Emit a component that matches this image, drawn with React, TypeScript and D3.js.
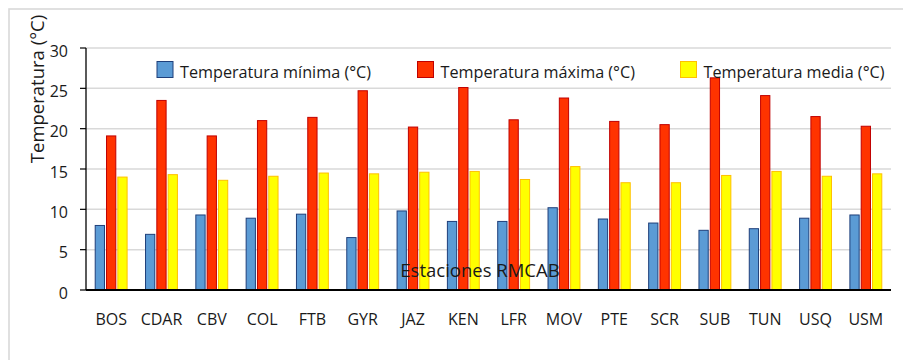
import React from "react";
import * as d3 from "d3";

const categories = ["BOS", "CDAR", "CBV", "COL", "FTB", "GYR", "JAZ", "KEN", "LFR", "MOV", "PTE", "SCR", "SUB", "TUN", "USQ", "USM"];
const tempMin = [8.0, 6.9, 9.3, 8.9, 9.4, 6.5, 9.8, 8.5, 8.5, 10.2, 8.8, 8.3, 7.4, 7.6, 8.9, 9.3];
const tempMax = [19.1, 23.5, 19.1, 21.0, 21.4, 24.7, 20.2, 25.1, 21.1, 23.8, 20.9, 20.5, 26.3, 24.1, 21.5, 20.3];
const tempMean = [14.0, 14.3, 13.6, 14.1, 14.5, 14.4, 14.6, 14.7, 13.7, 15.3, 13.3, 13.3, 14.2, 14.7, 14.1, 14.4];
const seriesNames = ["Temperatura mínima (°C)", "Temperatura máxima (°C)", "Temperatura media (°C)"];
const yTicks = [0, 5, 10, 15, 20, 25, 30];

const fills = ["#5b9bd5", "#ff3300", "#ffff00"];
const strokes = ["#1f3f7a", "#c00000", "#ffc000"];
const FONT = "'Open Sans', sans-serif";

export default function App() {
  const W = 903, H = 360;
  const left = 86, right = 891, top = 48, bottom = 290;
  const series = [tempMin, tempMax, tempMean];

  const x = d3.scaleBand<string>().domain(categories).range([left, right]).paddingInner(0.366).paddingOuter(0.183);
  const xi = d3.scaleBand<number>().domain([0, 1, 2]).range([0, x.bandwidth()]).paddingInner(0.18).paddingOuter(0);
  const y = d3.scaleLinear().domain([0, 30]).range([bottom, top]);

  const legendSquares = [157, 417.5, 680.5];

  return (
    <svg width={W} height={H} style={{ position: "absolute", left: 0, top: 0, background: "#fff" }} fontFamily={FONT}>
      <rect x={9} y={9} width={W + 20} height={H + 20} fill="#fff" stroke="#d9d9d9" strokeWidth={1.6} />
      {yTicks.filter(t => t > 0).map(t => (
        <line key={"g" + t} x1={left} x2={right} y1={y(t)} y2={y(t)} stroke="#d9d9d9" strokeWidth={1.5} />
      ))}
      {categories.map((c, i) => (
        <g key={c}>
          {series.map((s, k) => (
            <rect
              key={k}
              x={(x(c) as number) + (xi(k) as number)}
              y={y(s[i])}
              width={xi.bandwidth()}
              height={bottom - y(s[i])}
              fill={fills[k]}
              stroke={strokes[k]}
              strokeWidth={1}
            />
          ))}
        </g>
      ))}
      {/* axes */}
      <line x1={left} x2={left} y1={top} y2={bottom} stroke="#000" strokeWidth={1.3} />
      <line x1={left} x2={right} y1={bottom} y2={bottom} stroke="#000" strokeWidth={1.8} />
      {yTicks.map(t => (
        <g key={"t" + t}>
          <line x1={left - 6} x2={left} y1={y(t)} y2={y(t)} stroke="#000" strokeWidth={1.2} />
          <text x={68} y={y(t) + 8.7} textAnchor="end" fontSize={16} fill="#1a1a1a">{t}</text>
        </g>
      ))}
      {categories.map(c => (
        <text key={"l" + c} x={(x(c) as number) + x.bandwidth() / 2} y={325} textAnchor="middle" fontSize={16} fill="#1a1a1a">{c}</text>
      ))}
      <text transform="translate(43.5,89) rotate(-90)" textAnchor="middle" fontSize={18.5} fill="#1a1a1a">Temperatura (°C)</text>
      <text x={480} y={276.5} textAnchor="middle" fontSize={18.5} fill="#1a1a1a">Estaciones RMCAB</text>
      {seriesNames.map((n, k) => (
        <g key={n}>
          <rect x={legendSquares[k]} y={61.5} width={16} height={16} fill={fills[k]} stroke={strokes[k]} strokeWidth={1} />
          <text x={legendSquares[k] + 23} y={78} fontSize={16.2} fill="#1a1a1a">{n}</text>
        </g>
      ))}
    </svg>
  );
}
